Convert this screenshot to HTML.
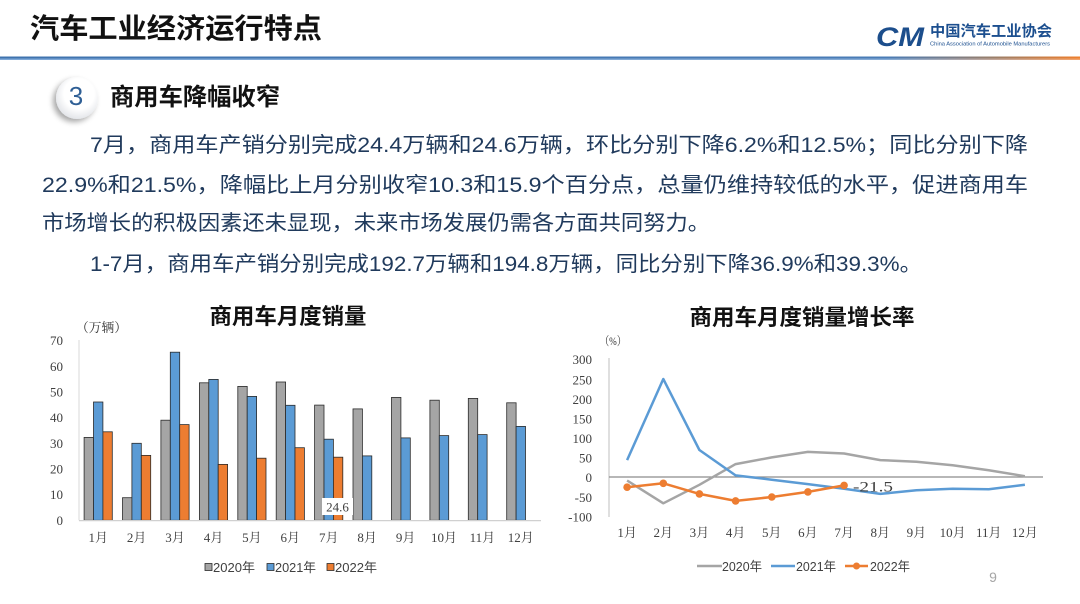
<!DOCTYPE html>
<html><head><meta charset="utf-8">
<style>
html,body{margin:0;padding:0;background:#fff;}
svg{display:block;}
.sans{font-family:"Liberation Sans","Noto Sans CJK SC",sans-serif;}
.serif{font-family:"Liberation Serif","Noto Serif CJK SC",serif;}
</style></head>
<body>
<svg width="1080" height="604" viewBox="0 0 1080 604" xmlns="http://www.w3.org/2000/svg">
<defs>
<linearGradient id="hl" x1="0" x2="1" y1="0" y2="0">
<stop offset="0" stop-color="#3f73ae"/>
<stop offset="0.82" stop-color="#4a7cb6"/>
<stop offset="0.92" stop-color="#9a7f6a"/>
<stop offset="1" stop-color="#ee7f2d"/>
</linearGradient>
<linearGradient id="hl2" x1="0" x2="1" y1="0" y2="0">
<stop offset="0" stop-color="#7fa9d8"/>
<stop offset="0.82" stop-color="#86acd6"/>
<stop offset="1" stop-color="#f3a36a"/>
</linearGradient>
<radialGradient id="cg" cx="0.55" cy="0.4" r="0.6">
<stop offset="0.6" stop-color="#ffffff"/>
<stop offset="1" stop-color="#e4e6ea"/>
</radialGradient>
<filter id="sh" x="-50%" y="-50%" width="200%" height="200%">
<feGaussianBlur in="SourceAlpha" stdDeviation="3"/>
<feOffset dx="-3" dy="3" result="b"/>
<feComponentTransfer><feFuncA type="linear" slope="0.35"/></feComponentTransfer>
<feMerge><feMergeNode/><feMergeNode in="SourceGraphic"/></feMerge>
</filter>
</defs>

<!-- Header -->
<text class="sans" x="30" y="38" font-size="28" font-weight="700" fill="#111" textLength="292" lengthAdjust="spacingAndGlyphs">汽车工业经济运行特点</text>
<text class="sans" x="876" y="46" font-size="27" font-weight="900" font-style="italic" fill="#1c4e8c" textLength="48" lengthAdjust="spacingAndGlyphs">CM</text>
<text class="sans" x="930" y="36" font-size="15" font-weight="700" fill="#1c4f8f" textLength="122" lengthAdjust="spacingAndGlyphs">中国汽车工业协会</text>
<text class="sans" x="930" y="45.5" font-size="5.5" fill="#1c4f8f" textLength="120" lengthAdjust="spacingAndGlyphs">China Association of Automobile Manufacturers</text>
<rect x="0" y="56.5" width="1080" height="2" fill="url(#hl)"/>
<rect x="0" y="58.5" width="1080" height="1.5" fill="url(#hl2)"/>

<!-- Section heading -->
<circle cx="77" cy="98" r="21" fill="url(#cg)" filter="url(#sh)"/>
<text class="sans" x="76" y="105" font-size="26" fill="#2f5f95" text-anchor="middle">3</text>
<text class="sans" x="110" y="105" font-size="24" font-weight="700" fill="#111" textLength="170" lengthAdjust="spacingAndGlyphs">商用车降幅收窄</text>

<!-- Paragraph -->
<g class="sans" font-size="21" fill="#203a5c">
<text x="90" y="152" textLength="938" lengthAdjust="spacingAndGlyphs">7月，商用车产销分别完成24.4万辆和24.6万辆，环比分别下降6.2%和12.5%；同比分别下降</text>
<text x="42" y="192" textLength="986" lengthAdjust="spacingAndGlyphs">22.9%和21.5%，降幅比上月分别收窄10.3和15.9个百分点，总量仍维持较低的水平，促进商用车</text>
<text x="42" y="230" textLength="668" lengthAdjust="spacingAndGlyphs">市场增长的积极因素还未显现，未来市场发展仍需各方面共同努力。</text>
<text x="90" y="271" textLength="832" lengthAdjust="spacingAndGlyphs">1-7月，商用车产销分别完成192.7万辆和194.8万辆，同比分别下降36.9%和39.3%。</text>
</g>

<!-- ===== Left chart ===== -->
<text class="sans" x="288" y="324" font-size="22" font-weight="700" fill="#111" text-anchor="middle" textLength="157" lengthAdjust="spacingAndGlyphs">商用车月度销量</text>
<text class="serif" x="76" y="332" font-size="13" fill="#333" textLength="51" lengthAdjust="spacingAndGlyphs">（万辆）</text>

<g class="serif" font-size="13" fill="#404040" text-anchor="end">
<text x="63" y="525">0</text>
<text x="63" y="499">10</text>
<text x="63" y="473.5">20</text>
<text x="63" y="448">30</text>
<text x="63" y="422">40</text>
<text x="63" y="396.5">50</text>
<text x="63" y="371">60</text>
<text x="63" y="345">70</text>
</g>
<line x1="79" y1="340" x2="79" y2="520.3" stroke="#d9d9d9" stroke-width="1"/>

<g stroke="#2b2b2b" stroke-width="0.8">
<g fill="#a5a5a5">
<rect x="84.1" y="437.4" width="9.4" height="82.9"/>
<rect x="122.5" y="497.7" width="9.4" height="22.6"/>
<rect x="160.9" y="420.2" width="9.4" height="100.1"/>
<rect x="199.4" y="382.8" width="9.4" height="137.5"/>
<rect x="237.8" y="386.4" width="9.4" height="133.9"/>
<rect x="276.2" y="382.0" width="9.4" height="138.3"/>
<rect x="314.6" y="405.1" width="9.4" height="115.2"/>
<rect x="353.0" y="408.9" width="9.4" height="111.4"/>
<rect x="391.5" y="397.4" width="9.4" height="122.9"/>
<rect x="429.9" y="400.2" width="9.4" height="120.1"/>
<rect x="468.3" y="398.4" width="9.4" height="121.9"/>
<rect x="506.7" y="402.8" width="9.4" height="117.5"/>
</g>
<g fill="#5b9bd5">
<rect x="93.5" y="402.0" width="9.4" height="118.3"/>
<rect x="131.9" y="443.3" width="9.4" height="77.0"/>
<rect x="170.3" y="352.2" width="9.4" height="168.1"/>
<rect x="208.8" y="379.4" width="9.4" height="140.9"/>
<rect x="247.2" y="396.4" width="9.4" height="123.9"/>
<rect x="285.6" y="405.3" width="9.4" height="115.0"/>
<rect x="324.0" y="439.2" width="9.4" height="81.1"/>
<rect x="362.4" y="455.9" width="9.4" height="64.4"/>
<rect x="400.9" y="437.9" width="9.4" height="82.4"/>
<rect x="439.3" y="435.6" width="9.4" height="84.7"/>
<rect x="477.7" y="434.6" width="9.4" height="85.7"/>
<rect x="516.1" y="426.4" width="9.4" height="93.9"/>
</g>
<g fill="#ed7d31">
<rect x="102.9" y="431.8" width="9.4" height="88.5"/>
<rect x="141.3" y="455.4" width="9.4" height="64.9"/>
<rect x="179.7" y="424.6" width="9.4" height="95.7"/>
<rect x="218.2" y="464.4" width="9.4" height="55.9"/>
<rect x="256.6" y="458.2" width="9.4" height="62.1"/>
<rect x="295.0" y="447.7" width="9.4" height="72.6"/>
<rect x="333.4" y="457.2" width="9.4" height="63.1"/>
</g>
</g>
<line x1="79" y1="520.6" x2="541" y2="520.6" stroke="#d0d0d0" stroke-width="1.2"/>
<rect x="322" y="498" width="31" height="17" fill="#ffffff"/>
<text class="serif" x="337.5" y="511.5" font-size="13" fill="#404040" text-anchor="middle">24.6</text>

<g class="serif" font-size="13" fill="#404040" text-anchor="middle">
<text x="98.2" y="542">1月</text>
<text x="136.6" y="542">2月</text>
<text x="175.0" y="542">3月</text>
<text x="213.5" y="542">4月</text>
<text x="251.9" y="542">5月</text>
<text x="290.3" y="542">6月</text>
<text x="328.7" y="542">7月</text>
<text x="367.1" y="542">8月</text>
<text x="405.6" y="542">9月</text>
<text x="444.0" y="542">10月</text>
<text x="482.4" y="542">11月</text>
<text x="520.8" y="542">12月</text>
</g>

<g stroke="#2b2b2b" stroke-width="0.8">
<rect x="205" y="563.5" width="7" height="7" fill="#a5a5a5"/>
<rect x="267" y="563.5" width="7" height="7" fill="#5b9bd5"/>
<rect x="327" y="563.5" width="7" height="7" fill="#ed7d31"/>
</g>
<g class="sans" font-size="13" fill="#404040">
<text x="213" y="572" textLength="42" lengthAdjust="spacingAndGlyphs">2020年</text>
<text x="275" y="572" textLength="41" lengthAdjust="spacingAndGlyphs">2021年</text>
<text x="335" y="572" textLength="42" lengthAdjust="spacingAndGlyphs">2022年</text>
</g>

<!-- ===== Right chart ===== -->
<text class="sans" x="802" y="325" font-size="22" font-weight="700" fill="#111" text-anchor="middle" textLength="225" lengthAdjust="spacingAndGlyphs">商用车月度销量增长率</text>
<text class="serif" x="600" y="345" font-size="12" fill="#333" textLength="26" lengthAdjust="spacingAndGlyphs">（%）</text>

<g class="serif" font-size="13" fill="#404040" text-anchor="end">
<text x="592" y="364">300</text>
<text x="592" y="384.5">250</text>
<text x="592" y="403.8">200</text>
<text x="592" y="423.4">150</text>
<text x="592" y="443">100</text>
<text x="592" y="462.6">50</text>
<text x="592" y="482">0</text>
<text x="592" y="501.8">-50</text>
<text x="592" y="521.4">-100</text>
</g>
<line x1="609" y1="358" x2="609" y2="517" stroke="#bfbfbf" stroke-width="1"/>
<line x1="609" y1="477" x2="1043" y2="477" stroke="#8c8c8c" stroke-width="1.3"/>

<polyline fill="none" stroke="#a5a5a5" stroke-width="2.5" stroke-linejoin="round" points="627.1,480.5 663.3,503.3 699.4,484.8 735.6,464.1 771.8,457.4 807.9,451.9 844.1,453.5 880.3,460.1 916.4,461.7 952.6,465.2 988.8,470.3 1024.9,476.2"/>
<polyline fill="none" stroke="#5b9bd5" stroke-width="2.5" stroke-linejoin="round" points="627.1,460.1 663.3,379.0 699.4,450.0 735.6,475.4 771.8,479.7 807.9,484.1 844.1,488.8 880.3,493.9 916.4,490.3 952.6,488.8 988.8,489.2 1024.9,484.8"/>
<polyline fill="none" stroke="#ed7d31" stroke-width="2.5" stroke-linejoin="round" points="627.1,487.2 663.3,483.3 699.4,493.9 735.6,500.9 771.8,497.0 807.9,491.9 844.1,485.4"/>
<g fill="#ed7d31">
<circle cx="627.1" cy="487.2" r="3.8"/>
<circle cx="663.3" cy="483.3" r="3.8"/>
<circle cx="699.4" cy="493.9" r="3.8"/>
<circle cx="735.6" cy="500.9" r="3.8"/>
<circle cx="771.8" cy="497.0" r="3.8"/>
<circle cx="807.9" cy="491.9" r="3.8"/>
<circle cx="844.1" cy="485.4" r="3.8"/>
</g>
<text class="serif" x="853" y="491.5" font-size="15" fill="#404040" textLength="40" lengthAdjust="spacingAndGlyphs">-21.5</text>

<g class="serif" font-size="13" fill="#404040" text-anchor="middle">
<text x="627.1" y="537">1月</text>
<text x="663.3" y="537">2月</text>
<text x="699.4" y="537">3月</text>
<text x="735.6" y="537">4月</text>
<text x="771.8" y="537">5月</text>
<text x="807.9" y="537">6月</text>
<text x="844.1" y="537">7月</text>
<text x="880.3" y="537">8月</text>
<text x="916.4" y="537">9月</text>
<text x="952.6" y="537">10月</text>
<text x="988.8" y="537">11月</text>
<text x="1024.9" y="537">12月</text>
</g>

<line x1="697" y1="566" x2="722" y2="566" stroke="#a5a5a5" stroke-width="2.5"/>
<line x1="771" y1="566" x2="795" y2="566" stroke="#5b9bd5" stroke-width="2.5"/>
<line x1="845" y1="566" x2="868" y2="566" stroke="#ed7d31" stroke-width="2.5"/>
<circle cx="856.5" cy="566" r="3.5" fill="#ed7d31"/>
<g class="sans" font-size="13" fill="#404040">
<text x="722" y="571" textLength="40" lengthAdjust="spacingAndGlyphs">2020年</text>
<text x="796" y="571" textLength="40" lengthAdjust="spacingAndGlyphs">2021年</text>
<text x="870" y="571" textLength="40" lengthAdjust="spacingAndGlyphs">2022年</text>
</g>

<text class="sans" x="993" y="582" font-size="14" fill="#a6a6a6" text-anchor="middle">9</text>
</svg>
</body></html>
